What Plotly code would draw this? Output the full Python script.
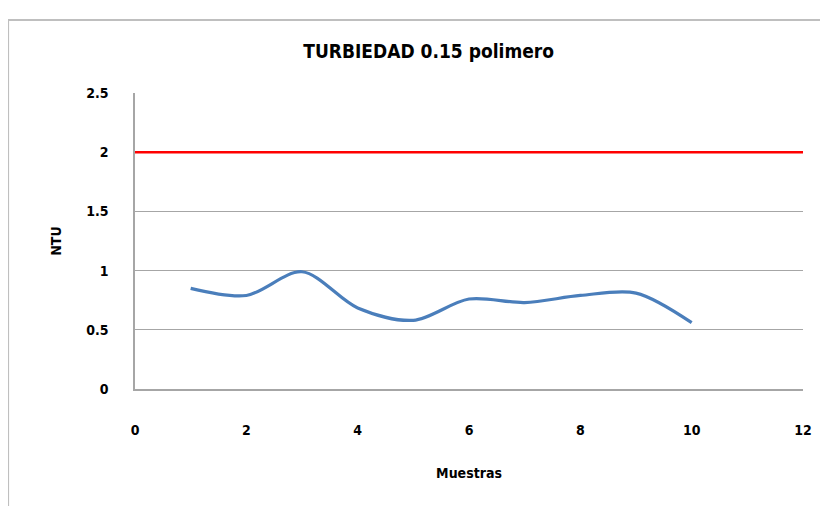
import plotly.graph_objects as go

muestras = [1, 2, 3, 4, 5, 6, 7, 8, 9, 10]
turbiedad = [0.85, 0.79, 0.99, 0.685, 0.58, 0.76, 0.73, 0.79, 0.81, 0.56]
limite_x = [0, 12]
limite_y = [2, 2]

FONT = "DejaVu Sans Condensed, Liberation Sans Narrow, Arial Narrow, sans-serif"

fig = go.Figure()
fig.add_trace(go.Scatter(x=limite_x, y=limite_y, mode="lines",
                         line=dict(color="#FF0000", width=2.5), showlegend=False))
fig.add_trace(go.Scatter(x=muestras, y=turbiedad, mode="lines",
                         line=dict(color="#4A7EBB", width=3.2, shape="spline", smoothing=0.9),
                         showlegend=False))

fig.update_layout(
    width=828, height=506,
    margin=dict(l=127, r=33, t=85, b=125),
    paper_bgcolor="white", plot_bgcolor="white",
    title=dict(text="<b>TURBIEDAD 0.15 polimero</b>", x=0.508, xanchor="center",
               y=0.915, yanchor="middle",
               font=dict(family=FONT, size=19, color="black")),
    xaxis=dict(range=[0, 12], dtick=2, showgrid=False, zeroline=False,
               showline=True, linecolor="#A6A6A6", linewidth=1.5,
               ticks="", ticklabelstandoff=27,
               tickfont=dict(family=FONT, size=14, color="black", weight="bold"),
               title=dict(text="<b>Muestras</b>", standoff=32,
                          font=dict(family=FONT, size=14, color="black"))),
    yaxis=dict(range=[0, 2.5], dtick=0.5, showgrid=True, gridcolor="#A6A6A6", gridwidth=1.2,
               zeroline=False, showline=True, linecolor="#A6A6A6", linewidth=1.5,
               ticks="", ticklabelstandoff=22,
               tickfont=dict(family=FONT, size=14, color="black", weight="bold"),
               title=dict(text="<b>NTU</b>", standoff=21,
                          font=dict(family=FONT, size=14, color="black"))),
    shapes=[dict(type="rect", xref="paper", yref="paper",
                 x0=-0.19, x1=1.06, y0=-0.45, y1=1.247,
                 line=dict(color="#BFBFBF", width=2), layer="below")],
)

fig.write_html("out.html")
